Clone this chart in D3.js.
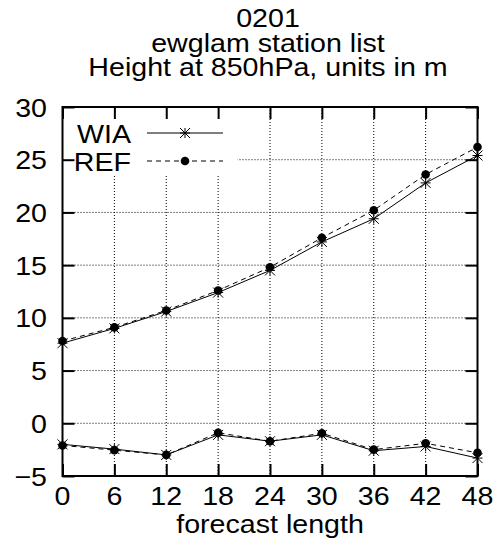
<!DOCTYPE html>
<html><head><meta charset="utf-8">
<script src="https://cdn.jsdelivr.net/npm/d3@7"></script>
<style>body{margin:0;background:#fff}text{font-family:"Liberation Sans",Arial,sans-serif;fill:#000}</style>
</head><body>
<script>
const steps = [0, 6, 12, 18, 24, 30, 36, 42, 48];
const wiaRmse = [7.6, 9.0, 10.6, 12.4, 14.5, 17.2, 19.4, 22.8, 25.4];
const refRmse = [7.8, 9.1, 10.7, 12.6, 14.8, 17.6, 20.2, 23.6, 26.2];
const wiaBias = [-2.0, -2.45, -3.0, -1.1, -1.7, -1.1, -2.6, -2.2, -3.3];
const refBias = [-2.1, -2.55, -3.0, -0.9, -1.7, -0.95, -2.5, -1.9, -2.8];
const yTicks = [-5, 0, 5, 10, 15, 20, 25, 30];
const titleLines = ["0201", "ewglam station list", "Height at 850hPa, units in m"];
const xLabel = "forecast length";
const legendNames = ["WIA", "REF"];

const W = 501, H = 550;
const L = 62.5, R = 477.5, T = 107, B = 476;
const FS = 26, SX = 1.1;
const svg = d3.select("body").append("svg").attr("width", W).attr("height", H);
const x = d3.scaleLinear().domain([0, 48]).range([L, R]);
const y = d3.scaleLinear().domain([-5, 30]).range([B, T]);

function txt(g, s, tx, ty, anchor) {
  g.append("text").attr("transform", `translate(${tx},${ty}) scale(${SX},1)`)
    .attr("text-anchor", anchor).attr("font-size", FS).text(s);
}

// grid
const grid = svg.append("g").attr("stroke", "#000").attr("stroke-width", 1).attr("stroke-dasharray", "1,2");
steps.slice(1, -1).forEach(v => grid.append("line").attr("x1", x(v)).attr("x2", x(v)).attr("y1", T).attr("y2", B));
yTicks.slice(1, -1).forEach(v => grid.append("line").attr("x1", L).attr("x2", R).attr("y1", y(v)).attr("y2", y(v)));

// legend background
svg.append("rect").attr("x", L + 1).attr("y", T + 1).attr("width", 174).attr("height", 68).attr("fill", "#fff");

// axes via d3
const tl = 12;
const axB = svg.append("g").attr("transform", `translate(0,${B})`).call(d3.axisTop(x).tickValues(steps).tickSize(tl).tickFormat(""));
const axT = svg.append("g").attr("transform", `translate(0,${T})`).call(d3.axisBottom(x).tickValues(steps).tickSize(tl).tickFormat(""));
const axL = svg.append("g").attr("transform", `translate(${L},0)`).call(d3.axisRight(y).tickValues(yTicks).tickSize(tl).tickFormat(""));
const axR = svg.append("g").attr("transform", `translate(${R},0)`).call(d3.axisLeft(y).tickValues(yTicks).tickSize(tl).tickFormat(""));
[axB, axT, axL, axR].forEach(a => { a.select(".domain").remove(); a.selectAll("line").attr("stroke", "#000").attr("stroke-width", 2); });
svg.append("rect").attr("x", L).attr("y", T).attr("width", R - L).attr("height", B - T)
  .attr("fill", "none").attr("stroke", "#000").attr("stroke-width", 2);

// tick labels
const lab = svg.append("g");
yTicks.forEach(v => txt(lab, v < 0 ? "\u2212" + Math.abs(v) : String(v), 47, y(v) + 9.5, "end"));
steps.forEach(v => txt(lab, String(v), x(v), 505, "middle"));
txt(lab, xLabel, (L + R) / 2, 533, "middle");
titleLines.forEach((s, i) => txt(lab, s, 268, 27 + i * 24.5, "middle"));

// series
const line = d3.line().x((d, i) => x(steps[i])).y(d => y(d));
function series(vals, dashed, marker) {
  svg.append("path").attr("d", line(vals)).attr("fill", "none").attr("stroke", "#000")
    .attr("stroke-width", 1).attr("stroke-dasharray", dashed ? "5,4" : null);
  vals.forEach((v, i) => marker(x(steps[i]), y(v)));
}
function star(cx, cy) {
  const s = 5, g = svg.append("g").attr("stroke", "#000").attr("stroke-width", 1);
  g.append("line").attr("x1", cx - s).attr("x2", cx + s).attr("y1", cy).attr("y2", cy);
  g.append("line").attr("x1", cx).attr("x2", cx).attr("y1", cy - s).attr("y2", cy + s);
  g.append("line").attr("x1", cx - s).attr("x2", cx + s).attr("y1", cy - s).attr("y2", cy + s);
  g.append("line").attr("x1", cx - s).attr("x2", cx + s).attr("y1", cy + s).attr("y2", cy - s);
}
function dot(cx, cy) { svg.append("circle").attr("cx", cx).attr("cy", cy).attr("r", 4.3).attr("fill", "#000"); }
series(refRmse, true, dot);
series(refBias, true, dot);
series(wiaRmse, false, star);
series(wiaBias, false, star);

// legend
const rows = [133, 161];
legendNames.forEach((n, i) => {
  txt(lab, n, 131, rows[i] + 10, "end");
  svg.append("line").attr("x1", 147).attr("x2", 223).attr("y1", rows[i]).attr("y2", rows[i])
    .attr("stroke", "#000").attr("stroke-width", 1).attr("stroke-dasharray", i ? "5,4" : null);
  (i ? dot : star)(185, rows[i]);
});
</script>
</body></html>
